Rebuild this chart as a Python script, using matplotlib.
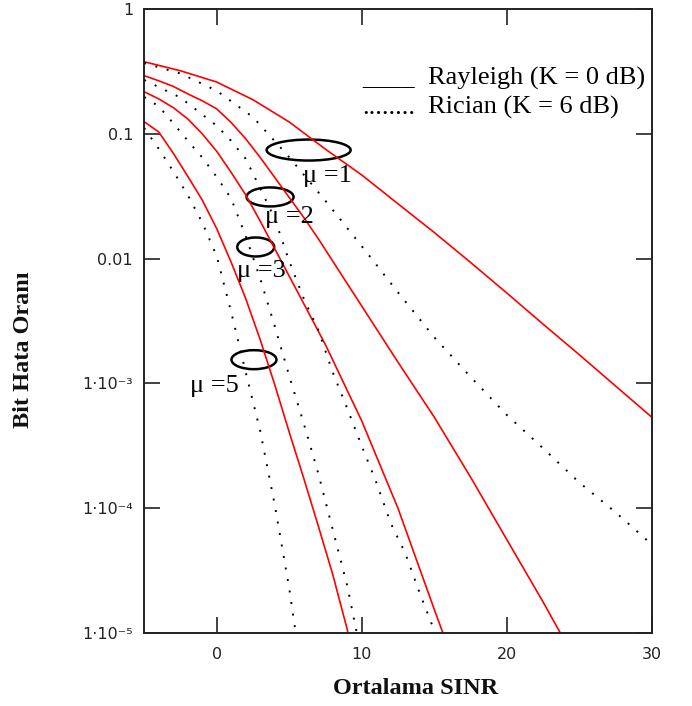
import matplotlib
matplotlib.use("Agg")
import matplotlib.pyplot as plt
import matplotlib.transforms as mtransforms
from matplotlib.patches import Ellipse
from matplotlib.ticker import FixedLocator, FixedFormatter, NullLocator

# ---------------- data ----------------
# Rayleigh (K = 0 dB), solid red
ray1_x = [-5, -2.5, 0, 2.5, 5, 7.5, 10, 12.5, 15, 17.5, 20, 22.5, 25, 27.5, 30]
ray1_y = [0.378, 0.320, 0.260, 0.1875, 0.1245, 0.0753, 0.0468, 0.0275, 0.0162,
          0.00933, 0.00531, 0.00299, 0.0017, 0.000955, 0.000537]

ray2_x = [-5, -4, -3, -2, -1, 0, 1, 2, 3, 4, 5, 6, 7, 8, 9, 10, 12.5, 15, 17.5,
          20, 22.5, 23.7]
ray2_y = [0.2924, 0.266, 0.240, 0.209, 0.184, 0.1585, 0.123, 0.0912, 0.0646,
          0.0447, 0.0309, 0.0214, 0.01445, 0.00955, 0.00631, 0.00417, 0.00148,
          0.000537, 0.000178, 0.0000562, 0.0000178, 0.00001]

ray3_x = [-5, -4, -3, -2, -1, 0, 1, 2, 3, 4, 5, 7.5, 10, 12.5, 15, 15.6]
ray3_y = [0.2173, 0.1905, 0.1622, 0.1318, 0.100, 0.0724, 0.049, 0.0324, 0.01995,
          0.0120, 0.00724, 0.00204, 0.000501, 0.0001, 0.0000155, 0.00001]

ray5_x = [-5, -4, -3, -2, -1, 0, 1, 2, 3, 4, 5, 6, 7, 8, 9, 9.05]
ray5_y = [0.125, 0.1035, 0.070, 0.0457, 0.0295, 0.01738, 0.00933, 0.00479,
          0.00224, 0.000977, 0.000407, 0.000174, 0.0000724, 0.0000295,
          0.0000107, 0.00001]

# Rician (K = 6 dB), dotted black
ric1_x = [-5, -2.5, 0, 2.5, 5, 7.5, 10, 12.5, 15, 17.5, 20, 22.5, 25, 27.5, 30]
ric1_y = [0.369, 0.304, 0.2213, 0.1361, 0.0650, 0.02904, 0.01259, 0.00537,
          0.002344, 0.00113, 0.00056, 0.000303, 0.000161, 0.0000929, 0.0000513]

ric2_x = [-5, -2.5, 0, 1, 2, 3, 4, 5, 6, 7, 8, 9, 10, 11, 12, 13, 14, 15, 15.06]
ric2_y = [0.2698, 0.195, 0.1161, 0.0877, 0.0631, 0.0366, 0.0209, 0.00955,
          0.00479, 0.00269, 0.00123, 0.000631, 0.000316, 0.000162, 0.0000759,
          0.0000437, 0.0000209, 0.0000105, 0.00001]

ric3_x = [-5, -4, -3, -2, -1, 0, 1, 2, 3, 4, 5, 6, 7, 8, 9, 9.66]
ric3_y = [0.1972, 0.166, 0.1216, 0.0881, 0.0646, 0.0452, 0.0302, 0.01514,
          0.00692, 0.00288, 0.00115, 0.000479, 0.000191, 0.0000676, 0.000024,
          0.00001]

ric5_x = [-5, -4, -3, -2, -1, 0, 1, 2, 3, 4, 5, 5.45]
ric5_y = [0.1112, 0.0759, 0.0501, 0.0324, 0.0195, 0.01047, 0.00372, 0.00123,
          0.000417, 0.000107, 0.0000229, 0.00001]

x_ticks = [0, 10, 20, 30]
x_tick_labels = ["0", "10", "20", "30"]
y_ticks = [1e-5, 1e-4, 1e-3, 1e-2, 1e-1, 1]
y_tick_labels = ["1\u00b710\u207b\u2075", "1\u00b710\u207b\u2074", "1\u00b710\u207b\u00b3",
                 "0.01", "0.1", "1"]

mu_labels = ["\u03bc =1", "\u03bc =2", "\u03bc =3", "\u03bc =5"]
mu_text_x = [5.96, 3.33, 1.40, -1.84]
mu_text_y = [0.0411, 0.01928, 0.00712, 0.000853]
ell_x = [6.34, 3.68, 2.69, 2.57]
ell_y = [0.0741, 0.0312, 0.01239, 0.001549]
ell_w_in = [0.84, 0.47, 0.37, 0.45]
ell_h_in = [0.21, 0.19, 0.19, 0.19]

# ---------------- figure ----------------
fig = plt.figure(figsize=(6.92, 7.06), dpi=100)
fig.patch.set_facecolor("white")
ax = fig.add_axes([144.2 / 692, 1 - 633 / 706, 507.5 / 692, 624 / 706])

red = "#ff0000"
for xs, ys in [(ray1_x, ray1_y), (ray2_x, ray2_y), (ray3_x, ray3_y), (ray5_x, ray5_y)]:
    ax.plot(xs, ys, color=red, lw=1.2, solid_joinstyle="round")
for xs, ys in [(ric1_x, ric1_y), (ric2_x, ric2_y), (ric3_x, ric3_y), (ric5_x, ric5_y)]:
    ax.plot(xs, ys, color="black", lw=1.4, linestyle=(0, (1, 5)))

ax.set_yscale("log")
ax.set_xlim(-5, 30)
ax.set_ylim(1e-5, 1)

ax.xaxis.set_major_locator(FixedLocator(x_ticks))
ax.xaxis.set_major_formatter(FixedFormatter(x_tick_labels))
ax.yaxis.set_major_locator(FixedLocator(y_ticks))
ax.yaxis.set_major_formatter(FixedFormatter(y_tick_labels))
ax.yaxis.set_minor_locator(NullLocator())
ax.xaxis.set_minor_locator(NullLocator())

ax.tick_params(axis="both", which="major", direction="in", length=11.5, width=1.2,
               top=True, right=True, colors="#222222", labelcolor="#222222",
               labelsize=11.5)
ax.tick_params(axis="x", pad=10)
ax.tick_params(axis="y", pad=8)
for lab in ax.get_xticklabels() + ax.get_yticklabels():
    lab.set_family("DejaVu Sans")
for sp in ax.spines.values():
    sp.set_linewidth(1.4)
    sp.set_color("#222222")

# axis labels
fig.text(416 / 692, 1 - 689 / 706, "Ortalama SINR", ha="center", va="center",
         family="Liberation Serif", fontweight="bold", fontsize=17.5, color="#111111")
fig.text(24 / 692, 1 - 350 / 706, "Bit Hata Oran\u0131", ha="center", va="center",
         rotation=90, family="Liberation Serif", fontweight="bold", fontsize=17.5,
         color="#111111")

# legend (drawn as text, like the original)
ax.text(0.429, 0.879, "____", transform=ax.transAxes, family="Liberation Serif",
        fontsize=19, va="baseline", ha="left")
ax.text(0.559, 0.879, "Rayleigh (K = 0 dB)", transform=ax.transAxes,
        family="Liberation Serif", fontsize=19, va="baseline", ha="left")
ax.text(0.429, 0.832, "........", transform=ax.transAxes, family="Liberation Serif",
        fontsize=19, va="baseline", ha="left")
ax.text(0.559, 0.832, "Rician (K = 6 dB)", transform=ax.transAxes,
        family="Liberation Serif", fontsize=19, va="baseline", ha="left")

# mu annotations
for lab, tx, ty in zip(mu_labels, mu_text_x, mu_text_y):
    ax.text(tx, ty, lab, family="Liberation Serif", fontsize=19, va="baseline",
            ha="left")
for ex, ey, ew, eh in zip(ell_x, ell_y, ell_w_in, ell_h_in):
    trans = fig.dpi_scale_trans + mtransforms.ScaledTranslation(ex, ey, ax.transData)
    e = Ellipse((0, 0), width=ew, height=eh, transform=trans, fill=False,
                edgecolor="black", lw=1.8, clip_on=False)
    ax.add_artist(e)

fig.savefig("out.png", dpi=100, facecolor="white")
